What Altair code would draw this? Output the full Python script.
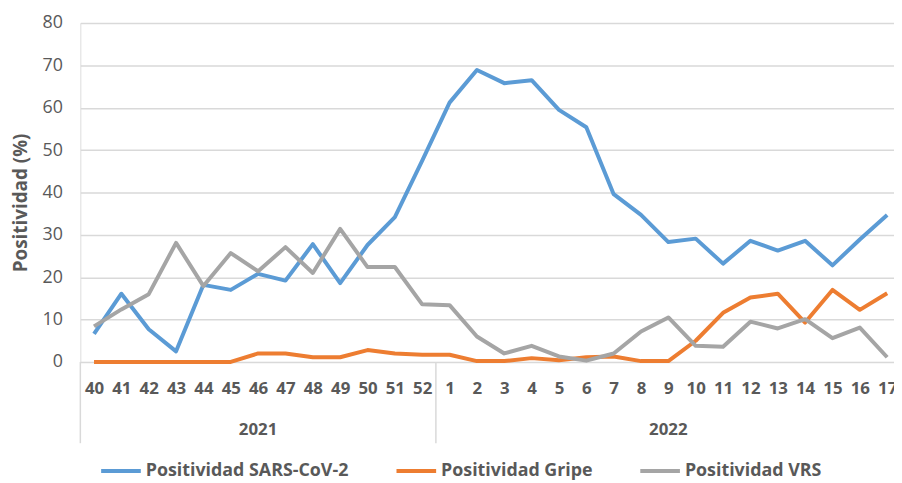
import json
import altair as alt
import pandas as pd

weeks = ["40", "41", "42", "43", "44", "45", "46", "47", "48", "49", "50", "51", "52",
         "1", "2", "3", "4", "5", "6", "7", "8", "9", "10", "11", "12", "13", "14", "15", "16", "17"]
years = ["2021"] * 13 + ["2022"] * 17

sars = [6.6, 16.1, 7.7, 2.5, 18.2, 17.0, 20.8, 19.2, 27.8, 18.6, 27.6, 34.2, 47.5,
        61.2, 68.9, 65.8, 66.5, 59.5, 55.4, 39.6, 34.7, 28.3, 29.1, 23.2, 28.6, 26.3, 28.6, 22.8, 28.9, 34.7]
gripe = [0.0, 0.0, 0.0, 0.0, 0.0, 0.0, 2.0, 2.0, 1.1, 1.1, 2.8, 2.0, 1.7,
         1.7, 0.2, 0.2, 0.9, 0.4, 1.1, 1.3, 0.2, 0.2, 5.0, 11.6, 15.2, 16.1, 9.3, 17.0, 12.3, 16.2]
vrs = [8.4, 12.4, 16.0, 28.1, 17.9, 25.7, 21.4, 27.1, 21.0, 31.4, 22.4, 22.4, 13.6,
       13.4, 6.0, 2.0, 3.8, 1.3, 0.3, 2.0, 7.2, 10.5, 3.8, 3.6, 9.5, 7.9, 10.1, 5.6, 8.1, 1.1]

series_names = ["Positividad SARS-CoV-2", "Positividad Gripe", "Positividad VRS"]
colors = ["#5B9BD5", "#ED7D31", "#A5A5A5"]

rows = []
for name, vals in zip(series_names, [sars, gripe, vrs]):
    for i, (w, v) in enumerate(zip(weeks, vals)):
        rows.append({"idx": i, "semana": w, "serie": name, "valor": v})
df = pd.DataFrame(rows)

# year groups
year_rows = []
bounds = []
for y in sorted(set(years), key=years.index):
    idxs = [i for i, yy in enumerate(years) if yy == y]
    year_rows.append({"year": y, "center": (idxs[0] + idxs[-1]) / 2})
    bounds.append({"b": idxs[0] - 0.5})
df_years = pd.DataFrame(year_rows)
df_bounds = pd.DataFrame(bounds)

TXT = "#595959"
FONT = "Open Sans"

xscale = alt.Scale(domain=[-0.5, len(weeks) - 0.75], nice=False, zero=False)
xaxis = alt.Axis(values=list(range(len(weeks))),
                 labelExpr=json.dumps(weeks) + "[datum.value]",
                 title=None, grid=False, domain=False, ticks=False,
                 labelFont=FONT, labelFontSize=17, labelFontWeight="bold",
                 labelColor=TXT, labelPadding=19, labelOverlap=False,
                 labelSeparation=0, labelFlush=False, labelBound=False)

lines = alt.Chart(df).mark_line(strokeWidth=4, strokeJoin="round").encode(
    x=alt.X("idx:Q", scale=xscale, axis=xaxis),
    y=alt.Y("valor:Q", scale=alt.Scale(domain=[0, 80], nice=False),
            axis=alt.Axis(values=list(range(0, 81, 10)), title="Positividad (%)",
                          grid=True, gridColor="#D9D9D9", gridWidth=1.5,
                          domain=False, ticks=False,
                          labelFont=FONT, labelFontSize=18, labelColor=TXT, labelPadding=18,
                          titleFont=FONT, titleFontSize=19, titleFontWeight="bold",
                          titleColor=TXT, titleX=-60, titleY=181, titleAngle=-90,
                          titleAlign="center", titleBaseline="middle")),
    color=alt.Color("serie:N",
                    scale=alt.Scale(domain=series_names, range=colors),
                    legend=alt.Legend(title=None, orient="none", direction="horizontal",
                                      legendX=19, legendY=430, symbolType="stroke",
                                      symbolSize=1600, symbolStrokeWidth=4,
                                      labelFont=FONT, labelFontSize=18, labelFontWeight="bold",
                                      labelColor=TXT, labelOffset=3, columnPadding=40,
                                      labelLimit=400)),
    order=alt.Order("idx:Q"),
)

seps = alt.Chart(df_bounds).mark_rule(color="#D9D9D9", strokeWidth=1.5).encode(
    x=alt.X("b:Q", scale=xscale, axis=xaxis),
    y=alt.value(342),
    y2=alt.value(424),
)

year_text = alt.Chart(df_years).mark_text(
    font=FONT, fontSize=17, fontWeight="bold", color=TXT, baseline="middle", align="center"
).encode(
    x=alt.X("center:Q", scale=xscale, axis=xaxis),
    y=alt.value(411),
    text="year:N",
)

chart = alt.layer(lines, seps, year_text).properties(
    width=821, height=342,
    autosize=alt.AutoSizeParams(type="none"),
    padding={"left": 73, "top": 13, "right": 0, "bottom": 117},
).configure_view(stroke=None).configure(background="white").configure_axisX(
    labelOverlap=False, labelSeparation=0, labelBound=False, labelFlush=False
)

chart.save("out.html", embed_options={"renderer": "svg", "actions": False})
